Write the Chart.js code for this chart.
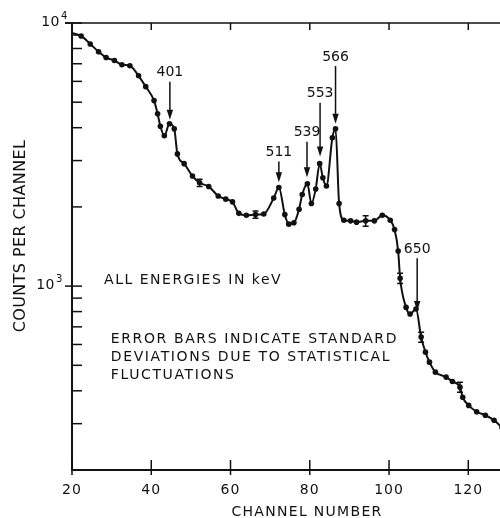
<!DOCTYPE html>
<html><head><meta charset="utf-8">
<script src="https://cdn.jsdelivr.net/npm/chart.js@4/dist/chart.umd.min.js"></script>
<style>html,body{margin:0;padding:0;background:#fff}#wrap{width:500px;height:518px;position:relative}</style>
</head><body><div id="wrap"><canvas id="c"></canvas></div>
<script>
// ---- data ----
const channels = [20.2, 22.3, 24.6, 26.7, 28.6, 30.7, 32.6, 34.6, 36.8, 38.6, 40.7, 41.6, 42.3, 43.3, 44.6, 45.8, 46.6, 48.3, 50.4, 52.2, 54.5, 56.9, 58.8, 60.5, 62.1, 64.0, 66.3, 68.4, 70.9, 72.2, 73.7, 74.7, 76.0, 77.3, 78.1, 79.4, 80.4, 81.5, 82.5, 83.3, 84.2, 85.7, 86.5, 87.4, 88.6, 90.3, 91.8, 94.1, 96.3, 98.3, 100.3, 101.4, 102.3, 102.8, 104.3, 105.3, 106.8, 108.1, 109.2, 110.2, 111.7, 114.4, 116.0, 117.9, 118.6, 120.1, 122.1, 124.3, 126.5, 128.5];
const counts = [9150, 8930, 8320, 7780, 7390, 7200, 6940, 6880, 6300, 5730, 5070, 4520, 4050, 3730, 4140, 3960, 3180, 2920, 2620, 2470, 2390, 2200, 2140, 2090, 1890, 1860, 1870, 1880, 2160, 2370, 1870, 1720, 1740, 1960, 2230, 2450, 2060, 2340, 2920, 2580, 2400, 3660, 3960, 2060, 1780, 1770, 1750, 1770, 1770, 1860, 1780, 1640, 1360, 1070, 830, 783, 818, 640, 561, 514, 471, 451, 434, 413, 378, 352, 333, 323, 309, 290];
const errors = [null,null,null,null,null,null,null,null,null,null,null,null,null,null,null,null,null,null,null, 80, null,null,null,null,null,null, 60, null,null,null,null,null,null,null,null,null,null,null,null,null,null,null,null,null,null,null,null, 80, null,null,null,null,null, 48, null,null,null, 28, null,null,null,null,null, 18, null,null,null,null,null,null];
const xTicks = [20, 40, 60, 80, 100, 120];
const yMajorTicks = [1000, 10000];
const yMinorTicks = [300, 400, 500, 600, 700, 800, 900, 2000, 3000, 4000, 5000, 6000, 7000, 8000, 9000];
const peakLabels = ['401', '511', '539', '553', '566', '650'];
const peakChannels = [44.7, 72.2, 79.3, 82.6, 86.5, 107.1];
const peakLabelCounts = [6470, 3220, 3830, 5380, 7430, 1380];
const peakTipCounts = [4290, 2480, 2590, 3110, 4140, 804];
const energyNote = ['ALL ENERGIES IN keV'];
const errorNote = ['ERROR BARS INDICATE STANDARD', 'DEVIATIONS DUE TO STATISTICAL', 'FLUCTUATIONS'];
const xTitle = 'CHANNEL NUMBER';
const yTitle = 'COUNTS PER CHANNEL';

const FONT = '"DejaVu Sans", sans-serif';
const INK = '#111';

function txt(ctx, s, x, y, size, align, spacing) {
  ctx.font = size + 'px ' + FONT;
  ctx.letterSpacing = (spacing || 0) + 'px';
  ctx.textAlign = align || 'left';
  ctx.textBaseline = 'middle';
  ctx.fillStyle = INK;
  ctx.fillText(s, x, y);
  ctx.letterSpacing = '0px';
}

const framePlugin = {
  id: 'frame',
  afterDatasetsDraw(chart) {
    const ctx = chart.ctx, xs = chart.scales.x, ys = chart.scales.y;
    ctx.save();
    ctx.strokeStyle = INK; ctx.lineWidth = 1.5;
    errors.forEach((e, i) => {
      if (e == null) return;
      const x = xs.getPixelForValue(channels[i]);
      const y1 = ys.getPixelForValue(counts[i] + e);
      const y2 = ys.getPixelForValue(counts[i] - e);
      ctx.beginPath();
      ctx.moveTo(x, y1); ctx.lineTo(x, y2);
      ctx.moveTo(x - 3, y1); ctx.lineTo(x + 3, y1);
      ctx.moveTo(x - 3, y2); ctx.lineTo(x + 3, y2);
      ctx.stroke();
    });
    ctx.restore();
  },
  afterDraw(chart) {
    const ctx = chart.ctx, xs = chart.scales.x, ys = chart.scales.y, a = chart.chartArea;
    ctx.save();
    ctx.strokeStyle = INK; ctx.fillStyle = INK;
    // axes lines
    ctx.lineWidth = 2;
    ctx.beginPath();
    ctx.moveTo(a.left, a.top); ctx.lineTo(a.left, a.bottom); ctx.lineTo(a.right, a.bottom);
    ctx.stroke();
    ctx.lineWidth = 1.5;
    ctx.beginPath(); ctx.moveTo(a.left - 7, a.top); ctx.lineTo(a.right, a.top); ctx.stroke();
    // x ticks
    xTicks.forEach(v => {
      const x = xs.getPixelForValue(v);
      ctx.beginPath(); ctx.moveTo(x, a.bottom - 10); ctx.lineTo(x, a.bottom + 5); ctx.stroke();
      if (v > xs.min) { ctx.beginPath(); ctx.moveTo(x, a.top); ctx.lineTo(x, a.top + 7); ctx.stroke(); }
      txt(ctx, String(v), x, a.bottom + 20, 14, 'center', 1);
    });
    // y ticks
    yMinorTicks.forEach(v => {
      const y = ys.getPixelForValue(v);
      ctx.beginPath(); ctx.moveTo(a.left, y); ctx.lineTo(a.left + 10, y); ctx.stroke();
    });
    yMajorTicks.forEach(v => {
      const y = ys.getPixelForValue(v);
      ctx.beginPath(); ctx.moveTo(a.left - 7, y); ctx.lineTo(a.left + 10, y); ctx.stroke();
      const exp = String(Math.round(Math.log10(v)));
      const rx = v >= 10000 ? a.left - 12 : a.left - 17;
      txt(ctx, '10', rx, y - 1, 14, 'right', 0.5);
      txt(ctx, exp, rx + 1, y - 7, 10, 'left', 0);
    });
    // axis titles
    txt(ctx, xTitle, xs.getPixelForValue(79.3), a.bottom + 42, 14, 'center', 1.3);
    ctx.save();
    ctx.translate(21, 236); ctx.rotate(-Math.PI / 2);
    txt(ctx, yTitle, 0, 0, 16, 'center', 0.4);
    ctx.restore();
    // peak annotations
    ctx.lineWidth = 1.5;
    peakLabels.forEach((lab, i) => {
      const x = xs.getPixelForValue(peakChannels[i]);
      const ly = ys.getPixelForValue(peakLabelCounts[i]);
      const ty = ys.getPixelForValue(peakTipCounts[i]);
      txt(ctx, lab, x, ly, 14, 'center', 0);
      ctx.beginPath(); ctx.moveTo(x, ly + 9); ctx.lineTo(x, ty - 8); ctx.stroke();
      ctx.beginPath(); ctx.moveTo(x - 3.2, ty - 10); ctx.lineTo(x + 3.2, ty - 10); ctx.lineTo(x, ty); ctx.closePath(); ctx.fill();
    });
    // notes
    const ex = xs.getPixelForValue(28.1), ey = ys.getPixelForValue(1054);
    energyNote.forEach((s, i) => txt(ctx, s, ex, ey + i * 18, 14, 'left', 1.5));
    const nx = xs.getPixelForValue(29.8), ny = ys.getPixelForValue(630);
    errorNote.forEach((s, i) => txt(ctx, s, nx, ny + i * 18, 14, 'left', 1.6));
    ctx.restore();
  }
};

new Chart(document.getElementById('c'), {
  type: 'line',
  data: {
    datasets: [{
      data: channels.map((x, i) => ({ x: x, y: counts[i] })),
      borderColor: INK,
      borderWidth: 2,
      pointRadius: c => (c.dataIndex === 0 ? 0 : 2.8),
      pointBackgroundColor: INK,
      pointBorderWidth: 0,
      cubicInterpolationMode: 'monotone',
      fill: false
    }]
  },
  options: {
    animation: false,
    responsive: true,
    maintainAspectRatio: false,
    devicePixelRatio: 1,
    layout: { autoPadding: false, padding: { left: 72, top: 23, right: 0, bottom: 48 } },
    plugins: { legend: { display: false }, tooltip: { enabled: false } },
    scales: {
      x: { type: 'linear', min: 20, max: 128, display: false },
      y: { type: 'logarithmic', min: 200, max: 10000, display: false }
    }
  },
  plugins: [framePlugin]
});
</script>
</body></html>
